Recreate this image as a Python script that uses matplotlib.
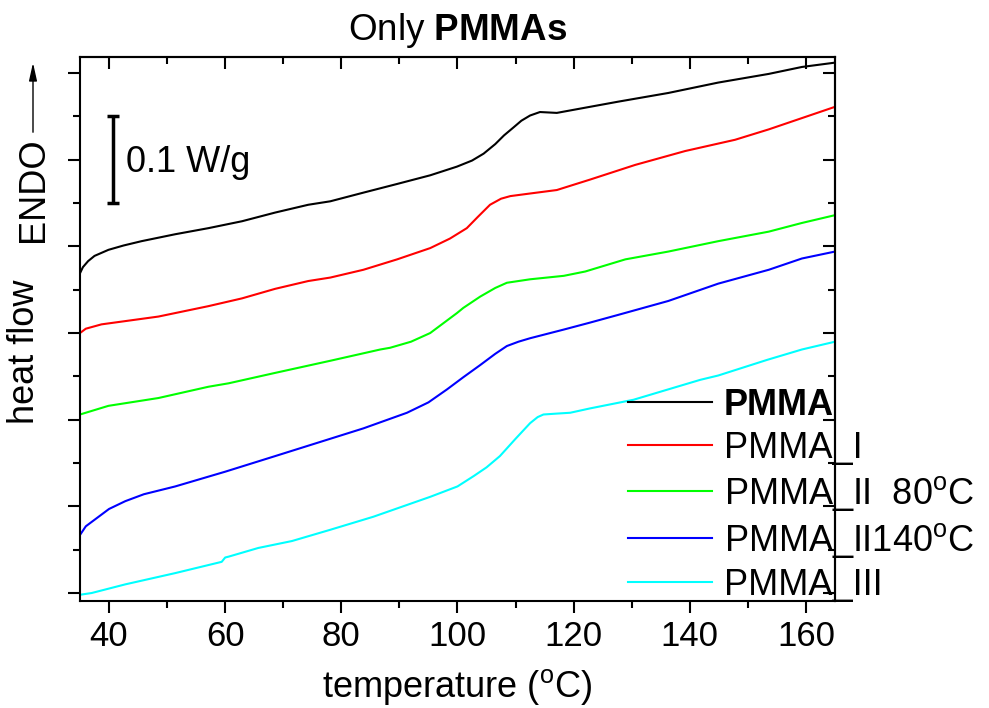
import numpy as np
import matplotlib
matplotlib.use("Agg")
import matplotlib.pyplot as plt
from matplotlib.ticker import MultipleLocator, NullFormatter

plt.rcParams['font.family'] = ['Liberation Sans', 'DejaVu Sans']
plt.rcParams['mathtext.fontset'] = 'custom'
plt.rcParams['mathtext.rm'] = 'Liberation Sans'
plt.rcParams['mathtext.bf'] = 'Liberation Sans:bold'

# DSC traces, temperature in degC, heat flow in W/g (shifted, arbitrary offset)
t_pmma = [35.0, 35.5, 36.4, 37.5, 39.9, 42.5, 45.6, 51.4, 57.1, 62.9, 68.6, 74.3,
          78.1, 83.8, 89.6, 95.3, 99.9, 102.5, 104.5, 106.5, 108.0, 109.6, 111.0,
          112.5, 114.2, 117.1, 122.8, 127.7, 136.3, 144.9, 153.6, 159.3, 165.0]
hf_pmma = [0.369, 0.376, 0.383, 0.389, 0.396, 0.401, 0.406, 0.414, 0.421, 0.429,
           0.439, 0.448, 0.452, 0.462, 0.472, 0.482, 0.492, 0.499, 0.507, 0.518,
           0.528, 0.537, 0.545, 0.551, 0.555, 0.554, 0.561, 0.567, 0.577, 0.589,
           0.599, 0.607, 0.612]

t_pmma1 = [35.0, 36.0, 38.7, 48.5, 57.1, 62.9, 68.6, 74.3, 78.1, 83.8, 89.6, 95.3,
           98.7, 101.6, 103.5, 105.6, 107.5, 109.1, 112.5, 117.1, 122.8, 130.6,
           139.2, 147.8, 153.6, 159.3, 165.0]
hf_pmma1 = [0.300, 0.305, 0.310, 0.319, 0.331, 0.340, 0.351, 0.360, 0.364, 0.373,
            0.385, 0.398, 0.409, 0.421, 0.434, 0.448, 0.455, 0.458, 0.461, 0.465,
            0.477, 0.494, 0.510, 0.523, 0.535, 0.548, 0.561]

t_pmma2_80 = [35.0, 39.9, 48.5, 57.1, 60.6, 68.6, 78.1, 86.7, 88.4, 92.0, 95.3,
              97.5, 99.9, 101.0, 103.9, 106.5, 108.5, 112.5, 118.3, 122.0, 128.9,
              136.3, 144.9, 153.6, 159.3, 165.0]
hf_pmma2_80 = [0.206, 0.216, 0.225, 0.238, 0.242, 0.254, 0.268, 0.281, 0.283, 0.290,
               0.300, 0.311, 0.323, 0.329, 0.342, 0.352, 0.358, 0.362, 0.366, 0.371,
               0.385, 0.394, 0.406, 0.417, 0.427, 0.436]

t_pmma2_140 = [35.0, 36.0, 37.6, 40.0, 42.8, 46.0, 51.4, 60.0, 68.6, 78.1, 83.8,
               91.3, 95.0, 98.2, 101.0, 103.9, 106.5, 108.5, 110.5, 112.5, 118.3,
               122.8, 127.7, 136.3, 144.9, 153.6, 159.3, 165.0]
hf_pmma2_140 = [0.067, 0.077, 0.085, 0.097, 0.106, 0.114, 0.123, 0.140, 0.158, 0.178,
                0.190, 0.208, 0.220, 0.235, 0.249, 0.263, 0.276, 0.285, 0.290, 0.294,
                0.304, 0.312, 0.321, 0.337, 0.357, 0.373, 0.386, 0.394]

t_pmma3 = [35.0, 37.0, 42.8, 51.4, 59.4, 60.0, 60.6, 65.7, 71.5, 78.1, 85.5, 95.3,
           100.0, 102.8, 105.0, 107.3, 110.0, 112.5, 113.8, 114.8, 117.0, 119.4,
           122.8, 130.3, 136.3, 141.8, 144.9, 153.3, 159.3, 165.0]
hf_pmma3 = [-0.002, 0.000, 0.010, 0.023, 0.036, 0.041, 0.042, 0.052, 0.060, 0.073,
            0.088, 0.111, 0.123, 0.135, 0.145, 0.158, 0.178, 0.196, 0.203, 0.206,
            0.207, 0.208, 0.213, 0.223, 0.235, 0.246, 0.251, 0.269, 0.281, 0.290]

labels = [r'PMMA', r'PMMA_I', r'PMMA_II  80$^{\mathrm{o}}$C',
          r'PMMA_II140$^{\mathrm{o}}$C', r'PMMA_III']
colors = ['#000000', '#ff0000', '#00ff00', '#0000ff', '#00ffff']

# scale bar (0.1 W/g)
scale_x = 40.6
scale_lo = 0.45
scale_hi = 0.55

fig = plt.figure(figsize=(9.89, 7.08), dpi=100)
ax = fig.add_axes([80/989, 1-601/708, (835-80)/989, (601-57)/708])

series = [(t_pmma, hf_pmma), (t_pmma1, hf_pmma1), (t_pmma2_80, hf_pmma2_80),
          (t_pmma2_140, hf_pmma2_140), (t_pmma3, hf_pmma3)]
for (t, hf), c, lab in zip(series, colors, labels):
    ax.plot(t, hf, color=c, lw=1.5, label=lab)

ax.plot([scale_x, scale_x], [scale_lo, scale_hi], color='k', lw=2.5,
        marker='_', ms=9, mew=2.5, solid_capstyle='butt')
ax.text(43.0, 0.497, '0.1 W/g', fontsize=26, va='center', ha='left')

ax.set_xlim(35, 165)
ax.set_ylim(-0.0092, 0.6185)

for s in ax.spines.values():
    s.set_linewidth(1.5)

ax.xaxis.set_major_locator(MultipleLocator(20))
ax.xaxis.set_minor_locator(MultipleLocator(10))
ax.yaxis.set_major_locator(MultipleLocator(0.1))
ax.yaxis.set_minor_locator(MultipleLocator(0.05))
ax.yaxis.set_major_formatter(NullFormatter())
ax.tick_params(which='major', direction='out', length=8.6, width=1.5,
               labelsize=25, pad=5)
ax.tick_params(which='minor', direction='out', length=5, width=1.5)

top = ax.secondary_xaxis('top')
top.xaxis.set_major_locator(MultipleLocator(20))
top.xaxis.set_minor_locator(MultipleLocator(10))
top.xaxis.set_major_formatter(NullFormatter())
top.tick_params(which='major', direction='in', length=8.6, width=1.5)
top.tick_params(which='minor', direction='in', length=5, width=1.5)
top.spines['top'].set_linewidth(1.5)

right = ax.secondary_yaxis('right')
right.yaxis.set_major_locator(MultipleLocator(0.1))
right.yaxis.set_minor_locator(MultipleLocator(0.05))
right.yaxis.set_major_formatter(NullFormatter())
right.tick_params(which='major', direction='in', length=8.6, width=1.5)
right.tick_params(which='minor', direction='in', length=5, width=1.5)
right.spines['right'].set_linewidth(1.5)

ax.set_xlabel(r'temperature ($^{\mathrm{o}}$C)', fontsize=26, labelpad=10)
ax.set_title(r'Only $\mathbf{PMMAs}$', fontsize=26.5, pad=12)

fig.text(25/989, 1-352/708, 'heat flow', rotation=90, fontsize=26,
         ha='center', va='center')
fig.text(33/989, 1-190/708, 'ENDO', rotation=90, fontsize=26,
         ha='center', va='center')
ax.annotate('', xy=(33/989, 1-60/708), xytext=(33/989, 1-135/708),
            xycoords='figure fraction', textcoords='figure fraction',
            arrowprops=dict(arrowstyle='-|>,head_length=0.9,head_width=0.2',
                            color='k', lw=1, mutation_scale=12))

leg = ax.legend(loc='upper left', bbox_to_anchor=(628/989, 1-388/708),
                bbox_transform=fig.transFigure, frameon=False, fontsize=26,
                handlelength=2.33, handletextpad=0.33, labelspacing=0.22,
                borderpad=0, borderaxespad=0)
leg.get_texts()[0].set_fontweight('bold')

fig.savefig('out.png', dpi=100)
